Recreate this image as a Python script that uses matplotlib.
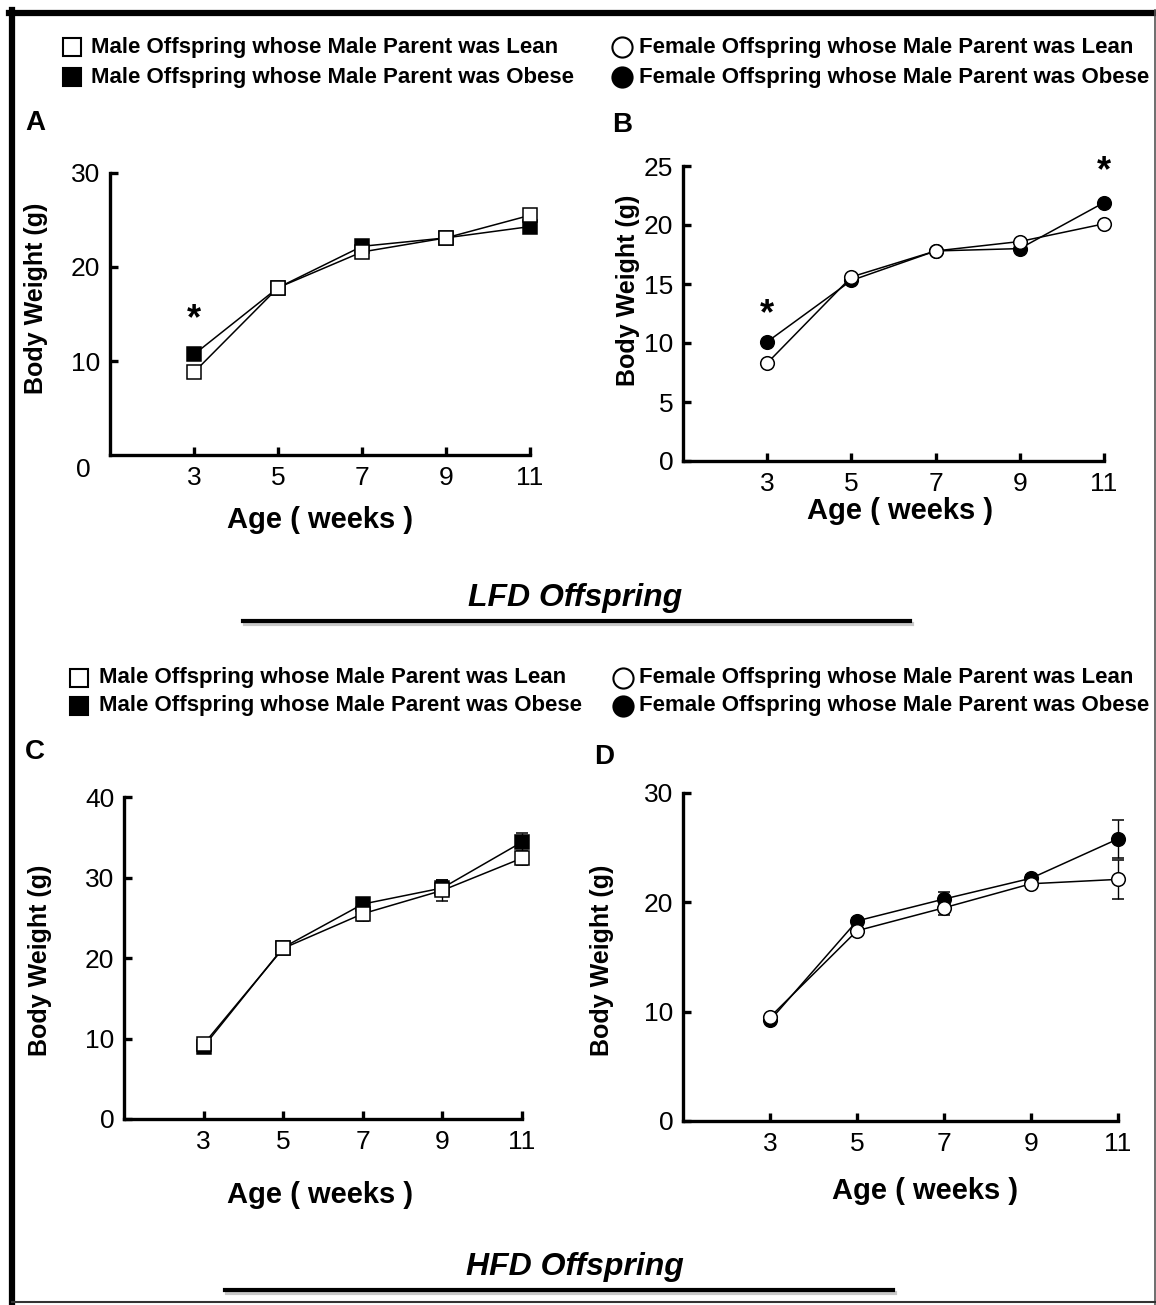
import matplotlib
matplotlib.use("Agg")
import matplotlib.pyplot as plt
from matplotlib.lines import Line2D

plt.rcParams['font.family'] = ['Liberation Sans', 'DejaVu Sans']

W, H = 1156, 1305

weeks = [3, 5, 7, 9, 11]

# LFD offspring
a_lean = [8.8, 17.8, 21.6, 23.1, 25.5]     # male, lean father
a_obese = [10.7, 17.8, 22.2, 23.1, 24.3]   # male, obese father
b_lean = [8.3, 15.6, 17.8, 18.6, 20.1]     # female, lean father
b_obese = [10.1, 15.3, 17.8, 18.0, 21.9]   # female, obese father

# HFD offspring
c_lean = [9.3, 21.2, 25.5, 28.4, 32.4]
c_obese = [9.0, 21.3, 26.7, 28.7, 34.4]
c_lean_err = [0.3, 0.4, 0.9, 1.3, 0.8]
c_obese_err = [0.3, 0.4, 0.7, 1.0, 1.1]
d_lean = [9.5, 17.4, 19.5, 21.7, 22.1]
d_obese = [9.2, 18.3, 20.3, 22.2, 25.8]
d_lean_err = [0.2, 0.3, 0.7, 0.3, 1.8]
d_obese_err = [0.2, 0.3, 0.6, 0.3, 1.75]

# significance stars
a_star_x, a_star_y = [3], [15.1]
b_star_x, b_star_y = [3, 11], [13.0, 25.1]

male_labels = ["Male Offspring whose Male Parent was Lean",
               "Male Offspring whose Male Parent was Obese"]
female_labels = ["Female Offspring whose Male Parent was Lean",
                 "Female Offspring whose Male Parent was Obese"]


def fx(px):
    return px / W


def fy(py):
    return 1 - py / H


def box(l, t, r, b):
    return [fx(l), fy(b), fx(r) - fx(l), fy(t) - fy(b)]


fig = plt.figure(figsize=(W / 100, H / 100), dpi=100)

LW = 2.4   # axis width
MS = 9.8   # marker size
LINE = 1.1
TICKFS = 19


def setup(ax, ymax, yticks):
    ax.set_xlim(1, 11)
    ax.set_ylim(0, ymax)
    for s in ['top', 'right']:
        ax.spines[s].set_visible(False)
    for s in ['left', 'bottom']:
        ax.spines[s].set_linewidth(LW)
    ax.set_xticks(weeks)
    ax.set_yticks(yticks)
    ax.tick_params(direction='in', length=6, width=LW, labelsize=TICKFS)
    ax.tick_params(axis='x', pad=8)
    ax.tick_params(axis='y', pad=7)


def series(ax, x, lean, obese, marker, lean_err=None, obese_err=None):
    for y, err, fill in [(obese, obese_err, 'black'), (lean, lean_err, 'white')]:
        if err is None:
            ax.plot(x, y, '-', marker=marker, color='black', mfc=fill, mec='black',
                    ms=MS, mew=1.1, lw=LINE, clip_on=False)
        else:
            cont = ax.errorbar(x, y, yerr=err, fmt='-', marker=marker, color='black',
                               mfc=fill, mec='black', ms=MS, mew=1.1, lw=LINE,
                               elinewidth=1.0, capsize=4.3, capthick=1.0)
            for art in cont.get_children():
                art.set_clip_on(False)


def stars(ax, xs, ys):
    for x, y in zip(xs, ys):
        ax.annotate('*', xy=(x, y), xytext=(0, -7), textcoords='offset pixels',
                    ha='center', va='center', fontsize=26, fontweight='bold',
                    annotation_clip=False)


# ---- panel A
axA = fig.add_axes(box(110, 173, 530, 455))
setup(axA, 30, [10, 20, 30])
series(axA, weeks, a_lean, a_obese, 's')
stars(axA, a_star_x, a_star_y)
axA.annotate('0', xy=(0, 0), xycoords='axes fraction', xytext=(-27, -15),
             textcoords='offset pixels', ha='center', va='center', fontsize=TICKFS)

# ---- panel B
axB = fig.add_axes(box(683, 166, 1104, 461))
setup(axB, 25, [0, 5, 10, 15, 20, 25])
series(axB, weeks, b_lean, b_obese, 'o')
stars(axB, b_star_x, b_star_y)

# ---- panel C
axC = fig.add_axes(box(124, 797, 522, 1119))
setup(axC, 40, [0, 10, 20, 30, 40])
series(axC, weeks, c_lean, c_obese, 's', c_lean_err, c_obese_err)

# ---- panel D
axD = fig.add_axes(box(683, 793, 1118, 1121))
setup(axD, 30, [0, 10, 20, 30])
series(axD, weeks, d_lean, d_obese, 'o', d_lean_err, d_obese_err)

# axis titles and panel letters
for x, y, letter in [(35, 123, 'A'), (622, 125, 'B'), (35, 752, 'C'), (604, 757, 'D')]:
    fig.text(fx(x), fy(y), letter, ha='center', va='center', fontsize=20, fontweight='bold')

for x, y in [(36, 298), (628, 290), (40, 960), (602, 960)]:
    fig.text(fx(x), fy(y), 'Body Weight (g)', rotation=90, ha='center', va='center',
             fontsize=18, fontweight='bold')

for x, y in [(320, 520), (900, 511), (320, 1195), (925, 1191)]:
    fig.text(fx(x), fy(y), 'Age ( weeks )', ha='center', va='center',
             fontsize=21, fontweight='bold')

# group titles with underline
for y, x0, x1, label in [(598, 243, 910, 'LFD Offspring'), (1267, 225, 893, 'HFD Offspring')]:
    fig.text(fx(575), fy(y), label, ha='center', va='center', fontsize=23,
             fontweight='bold', style='italic')
    yl = y + 23
    fig.add_artist(Line2D([fx(x0) + 0.002, fx(x1) + 0.002], [fy(yl + 3), fy(yl + 3)],
                          color='#c8c8c8', lw=3))
    fig.add_artist(Line2D([fx(x0), fx(x1)], [fy(yl), fy(yl)], color='black', lw=3))


# legends
def legend_block(y1, y2, sq_x, sq_tx, ci_x, ci_tx):
    for (y, fill, ml, fl) in [(y1, 'white', male_labels[0], female_labels[0]),
                              (y2, 'black', male_labels[1], female_labels[1])]:
        fig.add_artist(Line2D([fx(sq_x)], [fy(y)], marker='s', ms=13, mfc=fill,
                              mec='black', mew=1.5, ls='none'))
        fig.text(fx(sq_tx), fy(y), ml, ha='left', va='center', fontsize=16, fontweight='bold')
        fig.add_artist(Line2D([fx(ci_x)], [fy(y)], marker='o', ms=14.5, mfc=fill,
                              mec='black', mew=1.5, ls='none'))
        fig.text(fx(ci_tx), fy(y), fl, ha='left', va='center', fontsize=16, fontweight='bold')


legend_block(47, 77, 72, 91, 622, 639)
legend_block(678, 706, 79, 99, 623, 639)

# frame around the figure
fig.add_artist(Line2D([fx(9), fx(1156)], [fy(13), fy(13)], color='black', lw=4.5))
fig.add_artist(Line2D([fx(12), fx(12)], [fy(10), fy(1305)], color='black', lw=4.5))
fig.add_artist(Line2D([fx(1154.5), fx(1154.5)], [fy(10), fy(1305)], color='#555555', lw=1.2))
fig.add_artist(Line2D([fx(12), fx(1156)], [fy(1302), fy(1302)], color='#333333', lw=1.5))

fig.savefig('out.png', dpi=100)
